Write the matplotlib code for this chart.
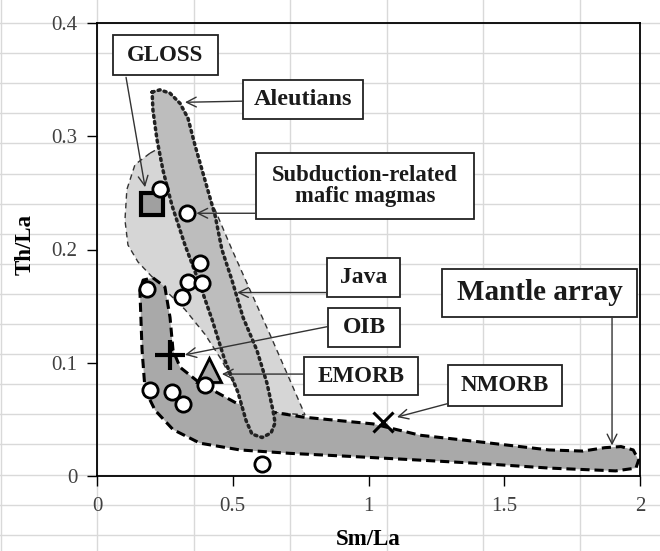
import numpy as np
import matplotlib
matplotlib.use('Agg')
import matplotlib.pyplot as plt
from matplotlib.patches import Polygon, Rectangle

# field outlines (Sm/La, Th/La)
mantle_x = [0.206, 0.250, 0.269, 0.280, 0.306, 0.379, 0.516, 0.656, 0.759, 1.017, 1.19, 1.414,
            1.665, 1.79, 1.87, 1.93, 1.975, 1.995, 1.985, 1.91, 1.665, 1.414, 1.19, 0.958,
            0.711, 0.527, 0.379, 0.28, 0.214, 0.177, 0.166, 0.158, 0.17]
mantle_y = [0.175, 0.167, 0.140, 0.111, 0.096, 0.082, 0.064, 0.056, 0.052, 0.046, 0.036, 0.030,
            0.023, 0.022, 0.025, 0.026, 0.023, 0.014, 0.007, 0.0045, 0.007, 0.011, 0.014, 0.017,
            0.020, 0.023, 0.029, 0.041, 0.058, 0.076, 0.111, 0.164, 0.173]

aleut_x = [0.203, 0.232, 0.269, 0.306, 0.335, 0.361, 0.398, 0.435, 0.460, 0.497, 0.538, 0.589,
           0.626, 0.648, 0.656, 0.641, 0.608, 0.571, 0.549, 0.519, 0.471, 0.424, 0.379, 0.324,
           0.276, 0.243, 0.221, 0.206]
aleut_y = [0.339, 0.341, 0.338, 0.329, 0.316, 0.292, 0.261, 0.230, 0.200, 0.173, 0.140, 0.111,
           0.082, 0.058, 0.047, 0.038, 0.034, 0.037, 0.049, 0.074, 0.102, 0.138, 0.169, 0.204,
           0.239, 0.270, 0.297, 0.323]

subd_x = [0.195, 0.14, 0.11, 0.103, 0.114, 0.151, 0.214, 0.269, 0.324, 0.398, 0.46, 0.508,
          0.54, 0.656, 0.766, 0.71, 0.637, 0.564, 0.497, 0.435, 0.361, 0.287, 0.232]
subd_y = [0.285, 0.275, 0.253, 0.226, 0.204, 0.189, 0.173, 0.160, 0.147, 0.125, 0.102, 0.080,
          0.062, 0.056, 0.054, 0.085, 0.125, 0.164, 0.200, 0.235, 0.270, 0.288, 0.290]

# samples
circ_x = [0.232, 0.331, 0.379, 0.335, 0.387, 0.313, 0.184, 0.195, 0.276, 0.317, 0.398, 0.608]
circ_y = [0.253, 0.232, 0.188, 0.171, 0.170, 0.158, 0.165, 0.076, 0.074, 0.064, 0.080, 0.011]
gloss = (0.203, 0.240)
oib = (0.269, 0.107)
emorb = (0.412, 0.094)
nmorb = (1.053, 0.048)

x_ticks = [0, 0.5, 1, 1.5, 2]
x_labels = ['0', '0.5', '1', '1.5', '2']
y_ticks = [0, 0.1, 0.2, 0.3, 0.4]
y_labels = ['0', '0.1', '0.2', '0.3', '0.4']

SERIF = ['Liberation Serif', 'DejaVu Serif']

fig = plt.figure(figsize=(6.6, 5.51), dpi=100)

# spreadsheet cell grid behind everything
bg = fig.add_axes([0, 0, 1, 1], zorder=-1)
bg.set_xlim(0, 660)
bg.set_ylim(551, 0)
bg.axis('off')
for gx in np.arange(0.5, 660, 96.5):
    bg.axvline(gx, color='#d9d9d9', lw=1)
for gy in np.arange(23, 551, 30.1):
    bg.axhline(gy, color='#d9d9d9', lw=1)

ax = fig.add_axes([97 / 660, 1 - 476 / 551, 543 / 660, 453 / 551])
ax.set_facecolor('none')
ax.set_xlim(0, 2)
ax.set_ylim(0, 0.4)

ax.add_patch(Polygon(np.column_stack([subd_x, subd_y]), closed=True, fc='#d6d6d6',
                     ec='#333333', lw=1, ls=(0, (4, 3)), zorder=2))
ax.add_patch(Polygon(np.column_stack([mantle_x, mantle_y]), closed=True, fc='#a9a9a9',
                     ec='black', lw=2.2, ls=(0, (3, 1.6)), joinstyle='round', zorder=3))
ax.add_patch(Polygon(np.column_stack([aleut_x, aleut_y]), closed=True, fc='#bdbdbd',
                     ec='#222222', lw=2.5, ls=(0, (0.6, 1.2)), capstyle='round',
                     joinstyle='round', zorder=4))

ax.plot(*gloss, 's', ms=16, mfc='#a0a0a0', mec='black', mew=3, zorder=6)
ax.plot(circ_x, circ_y, 'o', ms=11, mfc='white', mec='black', mew=2, zorder=7)
ax.plot(*oib, '+', ms=22, mec='black', mew=3, zorder=6)
ax.plot(*emorb, '^', ms=17, mfc='#a9a9a9', mec='black', mew=2, zorder=6)
ax.plot(*nmorb, 'x', ms=15, mec='black', mew=2.2, zorder=6)

# label boxes: text, (x0, x1, y0, y1), font size, arrow tail, arrow tip
labels = [
    ('GLOSS', (0.059, 0.446, 0.354, 0.389), 16.5, (0.107, 0.352), (0.177, 0.255)),
    ('Aleutians', (0.538, 0.980, 0.315, 0.350), 17.5, (0.538, 0.331), (0.324, 0.330)),
    ('Subduction-related\nmafic magmas', (0.586, 1.389, 0.227, 0.285), 16.3,
     (0.586, 0.232), (0.366, 0.232)),
    ('Java', (0.847, 1.116, 0.158, 0.1925), 17, (0.847, 0.162), (0.516, 0.162)),
    ('OIB', (0.851, 1.116, 0.114, 0.148), 17, (0.851, 0.132), (0.324, 0.107)),
    ('EMORB', (0.762, 1.182, 0.0715, 0.105), 16.6, (0.762, 0.090), (0.460, 0.090)),
    ('NMORB', (1.293, 1.713, 0.062, 0.098), 16.6, (1.293, 0.064), (1.105, 0.052)),
    ('Mantle array', (1.271, 1.989, 0.1404, 0.1828), 21, (1.897, 0.1404), (1.897, 0.027)),
]
for text, (x0, x1, y0, y1), fs, tail, tip in labels:
    ax.add_patch(Rectangle((x0, y0), x1 - x0, y1 - y0, fc='white', ec='#222222',
                           lw=1.3, zorder=8))
    ax.text((x0 + x1) / 2, (y0 + y1) / 2, text, ha='center', va='center', fontsize=fs,
            fontweight='bold', family=SERIF, color='#1a1a1a', linespacing=1.0, zorder=9)
    ax.annotate('', xy=tip, xytext=tail,
                arrowprops=dict(arrowstyle='->,head_length=0.7,head_width=0.35',
                                lw=1, color='#333333', shrinkA=0, shrinkB=0),
                zorder=8)

for s in ax.spines.values():
    s.set_linewidth(1.3)
    s.set_color('black')
ax.set_xticks(x_ticks)
ax.set_xticklabels(x_labels)
ax.set_yticks(y_ticks)
ax.set_yticklabels(y_labels)
ax.tick_params(direction='out', length=7, width=1, labelsize=15, labelcolor='#404040')
ax.tick_params(axis='x', pad=8)
ax.tick_params(axis='y', pad=7)
for t in ax.get_xticklabels() + ax.get_yticklabels():
    t.set_family(SERIF)
ax.set_xlabel('Sm/La', fontsize=16.5, fontweight='bold', family=SERIF)
ax.set_ylabel('Th/La', fontsize=16.5, fontweight='bold', family=SERIF)
ax.xaxis.set_label_coords(0.5, -0.118)
ax.yaxis.set_label_coords(-0.113, 0.51)

fig.savefig('out.png', dpi=100)
